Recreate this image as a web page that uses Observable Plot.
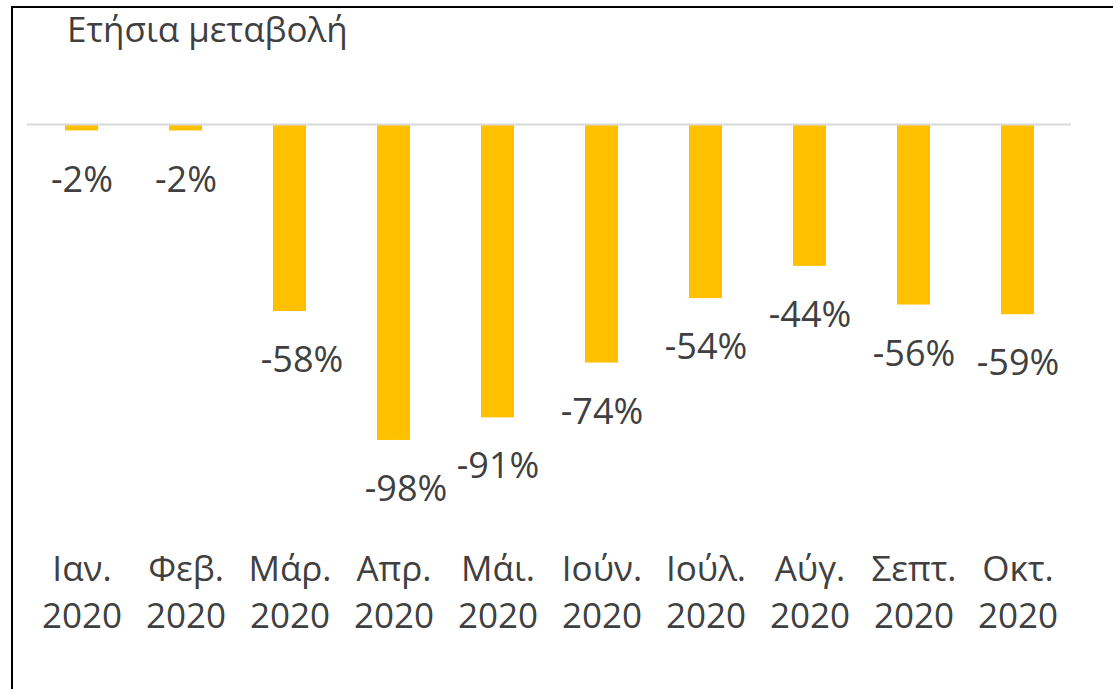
<!DOCTYPE html>
<html>
<head>
<meta charset="utf-8">
<script src="https://cdn.jsdelivr.net/npm/d3@7"></script>
<script src="https://cdn.jsdelivr.net/npm/@observablehq/plot@0.6"></script>
<style>
  html, body { margin: 0; padding: 0; background: #fff; }
  body { width: 1113px; height: 689px; position: relative; overflow: hidden; font-family: "Open Sans", sans-serif; }
  #frame { position: absolute; top: 6px; left: 11px; width: 1110px; height: 690px; border-top: 2px solid #000; border-left: 2px solid #000; box-sizing: border-box; }
  #title { position: absolute; left: 67px; top: 11px; font-size: 35px; line-height: 35px; color: #404040; white-space: nowrap; }
  #chart { position: absolute; left: 0; top: 80px; }
</style>
</head>
<body>
<div id="frame"></div>
<div id="title">Ετήσια μεταβολή</div>
<div id="chart"></div>
<script>
const months = ["Ιαν.", "Φεβ.", "Μάρ.", "Απρ.", "Μάι.", "Ιούν.", "Ιούλ.", "Αύγ.", "Σεπτ.", "Οκτ."];
const years = ["2020", "2020", "2020", "2020", "2020", "2020", "2020", "2020", "2020", "2020"];
const values = [-2, -2, -58, -98, -91, -74, -54, -44, -56, -59];

const data = months.map((m, i) => ({month: m, year: years[i], value: values[i]}));
const labelOf = new Map(data.map(d => [d.month, d.month + "\n" + d.year]));
// In the reference, the labels of Μάρ. and Απρ. sit slightly right of their bars
const shifted = new Set(["Μάρ.", "Απρ."]);

const labelOpts = {x: "month", y: "value", text: d => d.value + "%", lineAnchor: "top", dy: 35, fontSize: 36, fill: "#404040"};

const chart = Plot.plot({
  width: 1113,
  height: 609,
  marginLeft: 27,
  marginRight: 42,
  marginTop: 44,
  marginBottom: 242.6,
  style: {fontFamily: "Open Sans, sans-serif", color: "#404040", background: "transparent"},
  x: {domain: months, paddingInner: 0.684, paddingOuter: 0.342},
  y: {domain: [-100, 0], axis: null},
  marks: [
    Plot.barY(data, {x: "month", y: "value", fill: "#FFC000"}),
    Plot.ruleY([0], {stroke: "#D9D9D9", strokeWidth: 2}),
    Plot.text(data.filter(d => !shifted.has(d.month)), labelOpts),
    Plot.text(data.filter(d => shifted.has(d.month)), {...labelOpts, dx: 12}),
    Plot.axisX({anchor: "bottom", tickSize: 0, tickPadding: 100.5, fontSize: 35, lineHeight: 1.343, tickFormat: m => labelOf.get(m), fill: "#404040", label: null})
  ]
});
document.getElementById("chart").appendChild(chart);
</script>
</body>
</html>
